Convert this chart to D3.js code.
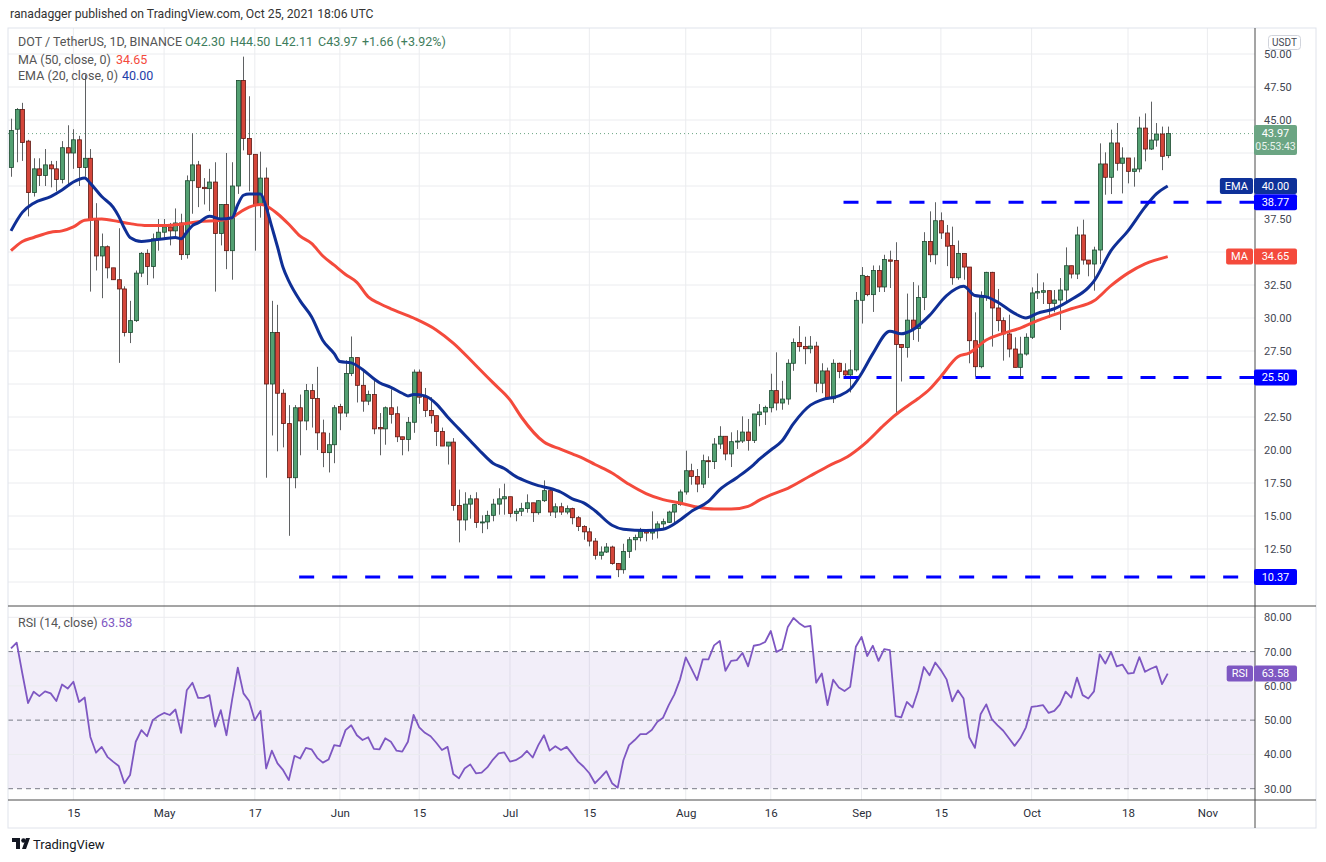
<!DOCTYPE html>
<meta charset="utf-8">
<script src="https://d3js.org/d3.v7.min.js"></script>
<style>
  body { margin: 0; background: #fff; }
  text { font-family: Roboto, "Liberation Sans", sans-serif; }
</style>
<body>
<div id="chart"></div>
<script>

// ---- data (candle i = Apr 4 2021 + i-1 days) ----
var opens = [41.4,44.3,45.8,43.4,39.5,41.3,40.8,41.6,41.3,40.5,
  42.9,42.5,43.5,41.4,42.1,37.4,34.7,35.4,33.8,32.9,
  32.2,28.9,29.8,33.4,34.9,33.9,36.0,36.5,36.9,36.6,
  37.2,34.8,40.4,41.6,39.9,39.8,40.3,36.4,38.6,35.1,
  40.0,48.0,43.6,42.4,38.6,40.6,25.0,28.9,24.3,22.0,
  17.9,23.2,22.2,24.5,23.9,21.3,19.8,20.4,23.3,22.8,
  25.8,27.0,24.9,23.7,24.2,21.7,21.6,23.2,22.75,21.0,
  20.8,22.1,25.9,24.0,23.0,22.6,21.4,20.3,20.6,15.8,
  14.7,15.9,16.3,14.5,14.55,15.05,15.9,16.3,16.46,15.2,
  15.36,15.56,16.0,15.25,16.16,16.92,15.3,15.7,15.3,15.56,
  14.87,14.2,13.8,13.1,12.02,12.27,12.65,11.4,10.93,12.32,
  13.2,13.38,13.84,13.71,13.97,14.4,14.52,15.3,15.86,16.82,
  18.43,18.0,17.42,19.19,19.12,20.45,21.04,19.7,20.63,20.68,
  21.36,20.73,22.68,22.88,23.2,24.5,23.56,23.86,26.57,28.15,
  27.85,27.67,27.87,25.06,25.99,23.88,26.57,25.99,25.69,26.07,
  31.34,33.15,31.77,33.6,32.35,34.4,34.36,28.0,27.77,29.84,
  29.21,31.55,35.79,34.79,37.37,36.44,35.49,33.05,34.89,33.86,
  28.28,26.31,31.62,33.46,30.76,29.8,28.79,27.65,26.26,27.27,
  28.54,31.9,31.95,32.07,31.11,31.36,32.12,33.96,33.33,36.29,
  34.39,34.09,35.15,41.67,40.66,43.26,41.72,42.12,41.11,41.29,
  44.39,42.8,43.48,43.94,42.30];

var highs = [45.1,45.9,46.3,43.5,42.1,42.1,42.8,41.9,41.9,43.4,
  44.6,44.3,43.8,48.4,42.8,38.7,36.4,35.5,33.8,36.8,
  32.4,31.3,33.6,35.0,35.2,36.4,37.5,37.5,37.2,38.3,
  37.9,40.8,44.0,41.9,40.6,41.3,41.8,38.6,42.5,41.8,
  48.0,49.8,46.8,42.4,42.6,41.4,31.3,31.0,24.6,23.4,
  23.4,24.2,25.0,25.0,26.3,22.3,21.3,23.4,23.5,26.8,
  28.6,27.0,26.0,24.5,25.3,22.8,23.3,24.6,23.3,21.0,
  22.5,26.1,26.1,24.7,24.0,22.6,21.7,20.6,20.9,17.0,
  16.8,16.6,16.8,15.05,15.4,16.3,17.1,17.45,16.46,15.56,
  16.0,16.64,16.0,16.2,17.7,16.92,15.96,16.0,15.8,15.63,
  15.0,14.3,14.1,13.33,12.7,12.95,12.75,11.44,12.9,13.4,
  13.59,14.1,13.97,15.35,14.6,14.8,15.4,15.9,17.0,19.95,
  18.96,18.56,19.65,19.52,20.9,21.8,21.04,21.34,21.5,22.55,
  22.35,22.73,23.48,23.36,25.78,27.4,25.24,26.87,28.45,29.38,
  28.58,28.63,28.2,26.57,26.24,26.87,26.62,26.57,27.58,31.97,
  33.86,33.23,33.98,33.98,34.79,35.1,35.74,28.0,31.85,32.72,
  32.47,36.5,38.08,38.77,38.0,37.05,36.92,35.87,34.89,33.86,
  30.43,32.02,33.5,33.5,32.2,30.05,30.25,28.54,28.58,28.84,
  32.32,33.38,32.7,32.07,32.12,33.03,35.35,33.96,36.92,37.45,
  34.39,35.4,43.23,42.55,44.27,44.77,42.93,42.12,42.17,45.25,
  45.5,46.39,44.77,44.5,44.50];

var lows = [40.7,41.8,41.9,37.7,39.2,40.0,40.0,39.9,39.6,40.2,
  40.1,41.3,40.0,40.7,32.0,33.6,31.5,33.0,32.9,26.6,
  28.6,28.1,29.7,33.1,32.5,33.0,35.1,36.0,35.5,36.0,
  34.4,34.5,37.9,38.4,38.6,38.1,32.0,35.5,33.7,32.9,
  39.4,42.7,39.6,35.1,37.6,17.9,21.1,19.9,20.2,13.5,
  17.1,19.6,21.5,21.7,20.0,18.7,18.3,19.0,21.5,22.5,
  25.6,23.6,22.9,23.4,21.2,19.6,20.4,22.0,20.6,19.6,
  19.9,21.3,23.5,22.5,22.0,20.3,20.3,18.9,15.4,13.0,
  13.9,14.8,14.1,13.7,14.0,14.6,15.1,15.1,14.9,14.6,
  15.0,15.25,14.55,15.1,16.06,15.0,14.85,15.08,15.13,14.37,
  13.86,13.2,12.7,11.7,11.7,12.2,11.31,10.37,10.63,11.82,
  12.4,13.08,13.08,13.2,13.3,13.96,14.47,14.47,15.78,16.62,
  17.37,16.8,17.12,17.88,18.56,20.08,19.22,18.71,20.08,20.53,
  19.95,20.53,21.8,21.9,22.85,23.0,23.05,23.43,26.0,27.45,
  26.5,27.32,24.38,24.3,23.86,23.56,25.44,25.44,24.36,25.94,
  29.58,31.65,30.46,31.97,31.97,32.27,22.7,25.19,27.0,28.33,
  28.2,30.6,34.23,34.06,35.99,33.93,32.52,32.9,32.9,26.57,
  25.56,26.19,31.3,27.83,29.0,26.77,27.02,26.26,25.56,27.15,
  28.41,31.44,31.06,30.0,30.43,29.09,31.19,33.0,32.95,34.04,
  33.16,32.07,34.09,39.34,39.39,41.16,39.44,40.2,39.95,41.04,
  41.87,42.73,42.98,41.2,42.11];

var closes = [44.2,45.8,43.3,39.5,41.3,40.8,41.6,41.3,40.5,42.9,
  42.5,43.5,41.4,42.1,37.4,34.7,35.4,33.8,32.9,32.2,
  28.9,29.8,33.4,34.9,33.9,36.0,36.5,36.9,36.6,37.2,
  34.8,40.4,41.6,39.9,39.8,40.3,36.4,38.6,35.1,40.0,
  48.0,43.6,42.4,38.6,40.6,25.0,28.9,24.3,22.0,17.9,
  23.2,22.2,24.5,23.9,21.3,19.8,20.4,23.2,22.8,25.8,
  27.0,24.9,23.7,24.2,21.6,21.6,23.2,22.7,21.0,20.8,
  22.1,25.9,24.0,23.0,22.6,21.4,20.3,20.6,15.8,14.7,
  15.9,16.3,14.5,14.55,15.05,15.9,16.3,16.46,15.2,15.36,
  15.56,16.0,15.25,16.16,16.92,15.3,15.7,15.3,15.56,14.87,
  14.2,13.8,13.1,12.02,12.27,12.65,11.4,10.93,12.32,13.2,
  13.38,13.84,13.71,13.97,14.4,14.57,15.3,15.86,16.82,18.43,
  18.0,17.42,19.19,19.12,20.45,21.04,19.7,20.63,20.68,21.36,
  20.73,22.73,22.88,23.23,24.5,23.56,23.86,26.57,28.15,27.83,
  27.67,27.87,25.06,25.99,23.88,26.57,25.94,25.69,26.07,31.34,
  33.23,31.77,33.6,32.35,34.43,34.3,28.0,27.77,29.84,29.21,
  31.55,35.79,34.79,37.37,36.44,35.44,33.05,34.89,33.86,28.28,
  26.31,31.62,33.46,30.76,29.8,28.79,27.65,26.26,27.27,28.54,
  31.9,32.0,32.07,31.11,31.36,32.12,33.96,33.33,36.29,34.39,
  34.09,35.15,41.67,40.66,43.26,41.72,42.12,41.11,41.29,44.39,
  42.8,43.48,43.94,42.25,43.97];

var rsi = [70.9,72.6,63.6,55.0,58.3,57.0,58.4,57.8,55.6,60.4,
  59.2,61.2,55.3,56.6,45.1,40.5,42.2,39.3,37.9,36.6,
  31.6,34.0,43.7,47.1,45.3,50.0,51.2,52.1,51.5,53.1,
  46.3,58.7,60.9,56.5,56.5,57.3,48.1,52.9,45.6,56.0,
  65.3,57.8,55.6,50.0,52.7,35.9,41.1,37.4,35.4,32.5,
  39.6,38.8,41.9,41.5,39.0,37.6,38.5,42.7,42.4,47.1,
  48.5,45.6,44.2,45.0,41.6,41.5,44.7,43.7,41.1,40.8,
  43.7,51.5,47.9,46.3,45.3,43.4,41.3,42.2,34.3,33.0,
  35.9,37.1,34.5,34.7,36.2,38.5,40.3,40.6,37.9,38.3,
  39.3,41.0,39.1,42.7,45.6,41.1,42.4,41.3,42.2,40.1,
  37.9,36.4,34.5,31.6,33.3,35.1,31.6,30.3,38.3,42.7,
  44.2,45.9,45.9,47.1,49.5,50.7,54.4,57.5,61.9,68.3,
  65.0,61.7,67.7,67.7,71.8,73.1,64.4,67.3,67.5,69.6,
  65.7,71.7,72.0,72.8,76.0,69.9,70.7,77.2,79.8,78.3,
  77.2,77.5,60.9,63.6,54.4,61.8,59.5,58.5,59.7,71.4,
  74.3,68.7,71.7,67.3,70.7,70.4,51.2,50.8,55.3,53.7,
  58.7,65.5,63.1,66.8,64.6,61.9,55.5,58.7,56.3,45.0,
  41.9,51.7,54.6,50.2,48.5,46.9,44.7,42.5,44.7,47.9,
  53.9,54.1,54.4,52.1,52.7,54.6,58.3,56.6,62.4,57.3,
  56.3,58.4,69.2,66.5,69.9,65.7,66.2,63.6,63.8,68.4,
  64.1,65.0,65.7,60.5,63.58];

// EMA 20 and MA 50, read at sample candles: [candle number, value]
var emaPoints = [[1,36.6],[3,38.0],[5,38.7],[8,39.2],[10,39.7],[12,40.3],[14,40.6],[15,40.2],
  [17,39.2],[19,38.4],[20,37.7],[21,36.8],[22,36.1],[24,35.8],[26,35.9],[28,36.0],[30,36.1],
  [31,36.0],[32,36.5],[33,37.0],[34,37.2],[36,37.7],[38,37.5],[40,37.6],[41,38.6],[42,39.3],
  [43,39.4],[45,39.4],[46,38.4],[47,36.9],[48,35.4],[49,33.8],[50,32.8],[52,31.3],[54,30.1],
  [56,28.3],[58,27.3],[59,26.7],[61,26.6],[63,26.1],[65,25.4],[66,25.1],[68,24.75],[70,24.3],
  [71,24.1],[72,24.2],[74,24.1],[76,23.5],[78,22.5],[80,21.6],[82,20.7],[84,19.8],[86,19.0],
  [88,18.6],[90,18.0],[92,17.6],[94,17.3],[96,17.1],[98,16.8],[100,16.3],[102,16.0],[104,15.4],
  [107,14.3],[109,14.0],[113,13.9],[116,14.0],[119,14.7],[121,15.35],[124,16.1],[126,17.0],
  [129,17.9],[132,18.9],[133,19.3],[135,20.0],[137,20.7],[139,22.0],[142,23.4],[144,23.8],
  [147,24.1],[149,24.6],[151,25.8],[153,27.3],[156,29.0],[158,28.8],[160,29.1],[163,30.2],
  [166,31.7],[169,32.4],[171,31.7],[173,31.6],[175,31.2],[178,30.35],[180,30.0],[182,30.35],
  [185,30.7],[188,31.4],[191,32.3],[192,32.8],[195,35.1],[198,36.6],[201,38.4],[203,39.4],[205,40.0]];

var maPoints = [[1,35.1],[3,35.8],[5,36.1],[8,36.5],[10,36.6],[12,36.9],[14,37.4],[17,37.5],
  [20,37.3],[22,37.15],[25,37.0],[28,37.0],[31,37.1],[34,37.3],[38,37.4],[40,37.6],[41,37.9],
  [43,38.4],[45,38.6],[46,38.5],[48,37.9],[50,37.1],[52,36.2],[54,35.65],[56,34.7],[58,34.0],
  [60,33.3],[62,32.7],[64,31.6],[66,31.1],[68,30.7],[72,30.0],[76,29.1],[79,28.1],[83,26.4],
  [86,25.1],[89,23.8],[91,22.5],[95,20.6],[98,20.05],[100,19.7],[102,19.35],[104,18.9],
  [107,18.26],[110,17.4],[113,16.7],[116,16.24],[119,15.98],[122,15.68],[125,15.53],[128,15.53],
  [131,15.73],[133,16.2],[135,16.6],[138,17.1],[142,18.05],[145,18.75],[149,19.63],[152,20.64],
  [155,21.9],[157,22.66],[159,23.3],[161,23.9],[163,24.6],[165,25.57],[168,27.07],[170,27.35],
  [173,28.33],[176,28.84],[179,29.24],[182,29.8],[185,30.25],[188,30.7],[192,31.3],[195,32.45],
  [198,33.4],[201,34.1],[205,34.65]];

// horizontal levels drawn on the chart: value and first candle
var levelValues = [38.77, 25.50, 10.37];
var levelStart = [148, 148, 52];

var tickDates = ["2021-04-15","2021-05-01","2021-05-17","2021-06-01","2021-06-15","2021-07-01",
  "2021-07-15","2021-08-01","2021-08-16","2021-09-01","2021-09-15","2021-10-01","2021-10-18","2021-11-01"];
var tickLabels = ["15","May","17","Jun","15","Jul","15","Aug","16","Sep","15","Oct","18","Nov"];
// price scale labels that are not hidden behind a value tag
var priceTicks = d3.range(10, 50.01, 2.5);
var priceLabels = [12.5, 15, 17.5, 20, 22.5, 27.5, 30, 32.5, 37.5, 45, 47.5, 50];
var rsiTicks = [30, 40, 50, 60, 70, 80];

// ---- layout ----
var W = 1326, H = 862;
var left = 8, axisX = 1255, right = 1316;
var priceTop = 28, priceBottom = 606, rsiTop = 607, rsiBottom = 800, timeBottom = 828;

function day(i) { return new Date(Date.UTC(2021, 3, 3 + i)); }

var svg = d3.select("#chart").append("svg")
  .attr("width", W).attr("height", H);

svg.append("rect").attr("width", W).attr("height", H).attr("fill", "#fff");

var x = d3.scaleUtc().domain([day(1), day(205)]).range([11, 1167.7]);
var y = d3.scaleLinear().domain([10, 50]).range([582, 54]);
var ry = d3.scaleLinear().domain([30, 80]).range([788.7, 617.3]);

svg.append("clipPath").attr("id", "cp").append("rect")
  .attr("x", left).attr("y", priceTop).attr("width", axisX - left).attr("height", priceBottom - priceTop);
svg.append("clipPath").attr("id", "cr").append("rect")
  .attr("x", left).attr("y", rsiTop).attr("width", axisX - left).attr("height", rsiBottom - rsiTop);

var gridColor = "#ebecef";
var tDates = tickDates.map(function(s) { return new Date(s + "T00:00:00Z"); });

// vertical grid through both panes
svg.append("g").selectAll("line").data(tDates).enter().append("line")
  .attr("x1", function(d) { return x(d); }).attr("x2", function(d) { return x(d); })
  .attr("y1", priceTop).attr("y2", rsiBottom)
  .attr("stroke", gridColor).attr("stroke-width", 1);

// horizontal price grid
svg.append("g").selectAll("line").data(priceTicks).enter().append("line")
  .attr("x1", left).attr("x2", axisX)
  .attr("y1", function(d) { return y(d); }).attr("y2", function(d) { return y(d); })
  .attr("stroke", gridColor);

// RSI band and grid
svg.append("rect").attr("x", left).attr("width", axisX - left)
  .attr("y", ry(70)).attr("height", ry(30) - ry(70))
  .attr("fill", "#7e57c2").attr("fill-opacity", 0.1);
svg.append("g").selectAll("line").data([40, 60, 80]).enter().append("line")
  .attr("x1", left).attr("x2", axisX)
  .attr("y1", function(d) { return ry(d); }).attr("y2", function(d) { return ry(d); })
  .attr("stroke", gridColor);
svg.append("g").selectAll("line").data([30, 50, 70]).enter().append("line")
  .attr("x1", left).attr("x2", axisX)
  .attr("y1", function(d) { return ry(d); }).attr("y2", function(d) { return ry(d); })
  .attr("stroke", "#787b86").attr("stroke-width", 1).attr("stroke-dasharray", "5,4");

// frame lines
svg.append("rect").attr("x", left).attr("y", priceTop).attr("width", right - left).attr("height", timeBottom - priceTop)
  .attr("fill", "none").attr("stroke", "#e0e3eb");
svg.append("line").attr("x1", left).attr("x2", right).attr("y1", priceBottom).attr("y2", priceBottom).attr("stroke", "#4a4a4a");
svg.append("line").attr("x1", left).attr("x2", right).attr("y1", rsiBottom).attr("y2", rsiBottom).attr("stroke", "#4a4a4a");
svg.append("line").attr("x1", axisX).attr("x2", axisX).attr("y1", priceTop).attr("y2", timeBottom).attr("stroke", "#4a4a4a");

// last price dotted line
svg.append("line").attr("x1", left).attr("x2", axisX)
  .attr("y1", y(43.97)).attr("y2", y(43.97))
  .attr("stroke", "#6ba583").attr("stroke-dasharray", "1,3");

// ---- candles ----
var candles = closes.map(function(c, k) {
  return { i: k + 1, o: opens[k], h: highs[k], l: lows[k], c: c };
});
var pg = svg.append("g").attr("clip-path", "url(#cp)");

pg.append("g").selectAll("line").data(candles).enter().append("line")
  .attr("x1", function(d) { return Math.round(x(day(d.i))) + 0.5; })
  .attr("x2", function(d) { return Math.round(x(day(d.i))) + 0.5; })
  .attr("y1", function(d) { return y(d.h); })
  .attr("y2", function(d) { return y(d.l); })
  .attr("stroke", "#5f6163").attr("stroke-width", 1);

pg.append("g").selectAll("rect").data(candles).enter().append("rect")
  .attr("x", function(d) { return Math.round(x(day(d.i))) - 1.5; })
  .attr("width", 4)
  .attr("y", function(d) { return y(Math.max(d.o, d.c)); })
  .attr("height", function(d) { return Math.max(1, Math.abs(y(d.o) - y(d.c))); })
  .attr("fill", function(d) { return d.c >= d.o ? "#53a072" : "#d4463a"; })
  .attr("stroke", function(d) { return d.c >= d.o ? "#1c4a30" : "#5e1812"; })
  .attr("stroke-width", 0.8);

// ---- moving averages ----
var avgLine = d3.line()
  .x(function(d) { return x(day(d[0])); })
  .y(function(d) { return y(d[1]); })
  .curve(d3.curveMonotoneX);

pg.append("path").datum(maPoints).attr("d", avgLine)
  .attr("fill", "none").attr("stroke", "#f44a3c").attr("stroke-width", 3);
pg.append("path").datum(emaPoints).attr("d", avgLine)
  .attr("fill", "none").attr("stroke", "#0f2f96").attr("stroke-width", 3);

// ---- dashed support / resistance levels ----
pg.append("g").selectAll("line").data(levelValues).enter().append("line")
  .attr("x1", function(d, k) { return x(day(levelStart[k])) - 1; })
  .attr("x2", axisX)
  .attr("y1", function(d) { return y(d); }).attr("y2", function(d) { return y(d); })
  .attr("stroke", "#0000ff").attr("stroke-width", 3).attr("stroke-dasharray", "15,18");

// ---- RSI ----
var rsiLine = d3.line()
  .x(function(d, k) { return x(day(k + 1)); })
  .y(function(d) { return ry(d); });
svg.append("g").attr("clip-path", "url(#cr)").append("path").datum(rsi).attr("d", rsiLine)
  .attr("fill", "none").attr("stroke", "#7e57c2").attr("stroke-width", 1.8)
  .attr("stroke-linejoin", "round");

// ---- axes ----
var pAxis = svg.append("g").attr("transform", "translate(" + axisX + ",0)")
  .call(d3.axisRight(y).tickValues(priceLabels).tickFormat(d3.format(".2f")).tickSize(0).tickPadding(9));
var rAxis = svg.append("g").attr("transform", "translate(" + axisX + ",0)")
  .call(d3.axisRight(ry).tickValues(rsiTicks).tickFormat(d3.format(".2f")).tickSize(0).tickPadding(9));
var tAxis = svg.append("g").attr("transform", "translate(0," + rsiBottom + ")")
  .call(d3.axisBottom(x).tickValues(tDates).tickFormat(function(d, k) { return tickLabels[k]; }).tickSize(0).tickPadding(9));

[pAxis, rAxis, tAxis].forEach(function(a) {
  a.select(".domain").remove();
  a.selectAll("text").attr("fill", "#434651").style("font-size", "11px")
    .style("font-family", "Roboto, 'Liberation Sans', sans-serif");
});
tAxis.selectAll("text").style("font-size", "11.5px").attr("fill", "#2a2e39");

// ---- price scale labels ----
function tagBox(cy, label, color, tag) {
  var g = svg.append("g");
  g.append("rect").attr("x", axisX - 1).attr("y", cy - 8).attr("width", 43).attr("height", 16)
    .attr("rx", 2).attr("fill", color);
  g.append("text").attr("x", axisX + 20.5).attr("y", cy).attr("dy", "0.35em")
    .attr("text-anchor", "middle").attr("fill", "#fff").style("font-size", "11px").text(label);
  if (tag) {
    var t = g.append("text").attr("x", axisX - 7).attr("y", cy).attr("dy", "0.35em")
      .attr("text-anchor", "end").attr("fill", "#fff").style("font-size", "11px").text(tag);
    var w = t.node().getComputedTextLength() + 10;
    g.insert("rect", "text:last-child").attr("x", axisX - 2 - w).attr("y", cy - 8)
      .attr("width", w).attr("height", 16).attr("rx", 2).attr("fill", color);
  }
}

// current price with countdown
var cp = svg.append("g");
cp.append("rect").attr("x", axisX - 1).attr("y", y(43.97) - 8.5).attr("width", 43).attr("height", 30)
  .attr("rx", 2).attr("fill", "#6ba583");
cp.append("text").attr("x", axisX + 20.5).attr("y", y(43.97)).attr("dy", "0.35em")
  .attr("text-anchor", "middle").attr("fill", "#fff").style("font-size", "11px").text("43.97");
cp.append("text").attr("x", axisX + 20.5).attr("y", y(43.97) + 13).attr("dy", "0.35em")
  .attr("text-anchor", "middle").attr("fill", "#e8f2ec").style("font-size", "10.5px").text("05:53:43");

tagBox(y(38.77), "38.77", "#0000ff");
tagBox(y(40.00), "40.00", "#0e3199", "EMA");
tagBox(y(34.65), "34.65", "#f44a3c", "MA");
tagBox(y(25.50), "25.50", "#0000ff");
tagBox(y(10.37), "10.37", "#0000ff");
tagBox(ry(63.58), "63.58", "#7e57c2", "RSI");

// USDT unit badge
svg.append("rect").attr("x", 1268.5).attr("y", 35.5).attr("width", 32).attr("height", 14).attr("rx", 3)
  .attr("fill", "#fff").attr("stroke", "#d1d4dc");
svg.append("text").attr("x", 1284.5).attr("y", 42.5).attr("dy", "0.35em").attr("text-anchor", "middle")
  .attr("fill", "#434651").style("font-size", "10px").text("USDT");

// ---- header, legends and footer ----
svg.append("text").attr("x", 10).attr("y", 14).attr("dy", "0.35em")
  .attr("fill", "#333").style("font-size", "12.2px")
  .text("ranadagger published on TradingView.com, Oct 25, 2021 18:06 UTC");

// parts: [text, colour, x]
function legend(yy, parts) {
  var t = svg.append("text").attr("y", yy).attr("dy", "0.35em").style("font-size", "12.5px");
  parts.forEach(function(p) {
    t.append("tspan").attr("x", p[2]).attr("fill", p[1]).text(p[0]);
  });
}
legend(42, [["DOT / TetherUS, 1D, BINANCE", "#555", 18],
  ["O42.30", "#3e7c5c", 185], ["H44.50", "#3e7c5c", 230], ["L42.11", "#3e7c5c", 275],
  ["C43.97", "#3e7c5c", 318], ["+1.66 (+3.92%)", "#3e7c5c", 362]]);
legend(60, [["MA (50, close, 0)", "#555", 18], ["34.65", "#f44a3c", 116]]);
legend(76, [["EMA (20, close, 0)", "#555", 18], ["40.00", "#1e3ea8", 122]]);
legend(623, [["RSI (14, close)", "#555", 18], ["63.58", "#7e57c2", 101]]);

var logo = svg.append("g").attr("transform", "translate(12,838)");
logo.append("path").attr("d", "M0,0 H8 V11 H4 V4 H0 Z").attr("fill", "#131722");
logo.append("circle").attr("cx", 11.5).attr("cy", 2.5).attr("r", 2.3).attr("fill", "#131722");
logo.append("path").attr("d", "M10,11 L14,0 H18 L14,11 Z").attr("fill", "#131722");
svg.append("text").attr("x", 33).attr("y", 844).attr("dy", "0.35em")
  .attr("fill", "#131722").style("font-size", "13px").text("TradingView");

</script>
</body>
